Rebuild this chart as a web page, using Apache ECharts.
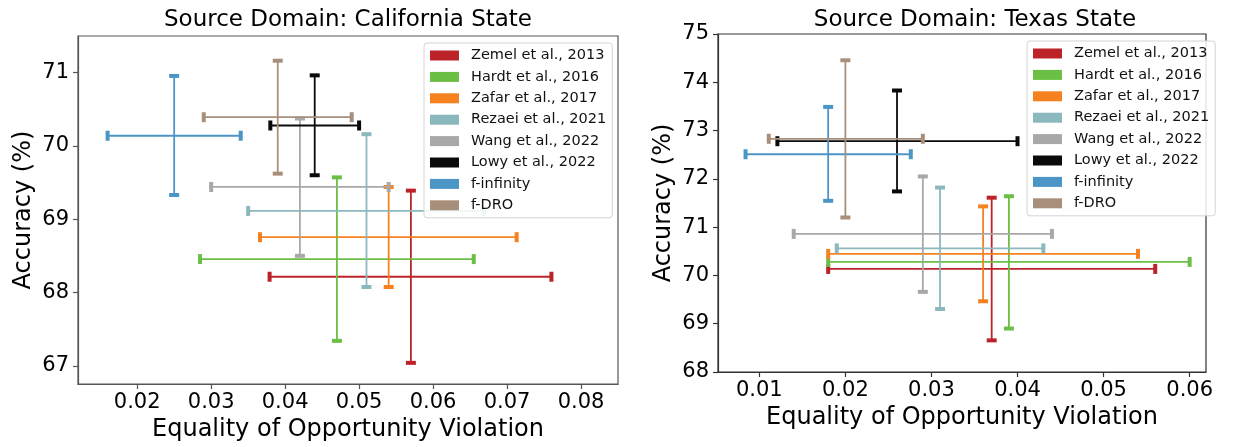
<!DOCTYPE html>
<html>
<head>
<meta charset="utf-8">
<script src="https://cdn.jsdelivr.net/npm/echarts@6/dist/echarts.min.js"></script>
<style>
html,body{margin:0;padding:0;background:#fff;}
#chart{width:1256px;height:447px;}
</style>
</head>
<body>
<div id="chart"></div>
<script>
// ---- data ----
const methods = ['Zemel et al., 2013','Hardt et al., 2016','Zafar et al., 2017','Rezaei et al., 2021','Wang et al., 2022','Lowy et al., 2022','f-infinity','f-DRO'];
const colors = ['#bb2329','#6cbf45','#f5821f','#8bb8bd','#a8a8a8','#0a0a0a','#4b96c6','#a88f7b'];

// Source Domain: California State
const caX   = [0.057, 0.047, 0.054, 0.051, 0.042, 0.044, 0.025, 0.039];
const caY   = [68.215, 68.456, 68.755, 69.113, 69.44, 70.279, 70.139, 70.392];
const caXLo = [0.0379, 0.0285, 0.0366, 0.035, 0.030, 0.038, 0.016, 0.029];
const caXHi = [0.076, 0.0655, 0.0713, 0.0669, 0.054, 0.050, 0.034, 0.049];
const caYLo = [67.04, 67.34, 68.075, 68.075, 68.50, 69.60, 69.33, 69.622];
const caYHi = [69.39, 69.571, 69.44, 70.16, 70.374, 70.963, 70.955, 71.163];

// Source Domain: Texas State
const txX   = [0.037, 0.039, 0.036, 0.031, 0.029, 0.026, 0.018, 0.020];
const txY   = [70.135, 70.28, 70.446, 70.56, 70.86, 72.78, 72.51, 72.83];
const txXLo = [0.018, 0.018, 0.018, 0.019, 0.014, 0.0121, 0.0084, 0.0111];
const txXHi = [0.056, 0.060, 0.054, 0.043, 0.044, 0.040, 0.0276, 0.029];
const txYLo = [68.655, 68.90, 69.465, 69.305, 69.66, 71.74, 71.545, 71.20];
const txYHi = [71.61, 71.64, 71.43, 71.82, 72.05, 73.83, 73.49, 74.456];

const caXTicks = [0.02, 0.03, 0.04, 0.05, 0.06, 0.07, 0.08];
const caYTicks = [67, 68, 69, 70, 71];
const txXTicks = [0.01, 0.02, 0.03, 0.04, 0.05, 0.06];
const txYTicks = [68, 69, 70, 71, 72, 73, 74, 75];

const titles = ['Source Domain: California State', 'Source Domain: Texas State'];
const xName = 'Equality of Opportunity Violation';
const yName = 'Accuracy (%)';

// ---- chart ----
const FONT = 'DejaVu Sans';
const chart = echarts.init(document.getElementById('chart'));

function renderErr(params, api) {
  const x = api.value(0), y = api.value(1);
  const pL = api.coord([api.value(2), y]);
  const pR = api.coord([api.value(3), y]);
  const pB = api.coord([x, api.value(4)]);
  const pT = api.coord([x, api.value(5)]);
  const color = api.visual('color');
  const lw = 1.8, capL = 10, capT = 4;
  const line = (a, b) => ({type: 'line', shape: {x1: a[0], y1: a[1], x2: b[0], y2: b[1]}, style: {stroke: color, lineWidth: lw}});
  const rect = (cx, cy, w, h) => ({type: 'rect', shape: {x: cx - w / 2, y: cy - h / 2, width: w, height: h}, style: {fill: color}});
  return {
    type: 'group',
    children: [
      line(pL, pR),
      line(pB, pT),
      rect(pL[0], pL[1], capT, capL),
      rect(pR[0], pR[1], capT, capL),
      rect(pB[0], pB[1], capL, capT),
      rect(pT[0], pT[1], capL, capT)
    ]
  };
}

function buildSeries(idx, X, Y, XLo, XHi, YLo, YHi) {
  return methods.map((m, i) => ({
    type: 'custom',
    name: m,
    xAxisIndex: idx,
    yAxisIndex: idx,
    itemStyle: {color: colors[i]},
    encode: {x: [0, 2, 3], y: [1, 4, 5]},
    renderItem: renderErr,
    clip: false,
    z: 2,
    data: [[X[i], Y[i], XLo[i], XHi[i], YLo[i], YHi[i]]]
  }));
}

const axisCommon = (lineColor) => ({
  axisLine: {show: true, onZero: false, lineStyle: {color: lineColor, width: 1.2}},
  splitLine: {show: false},
  nameLocation: 'middle',
  nameTextStyle: {fontFamily: FONT, fontSize: 24, color: '#000'}
});

function xAxis(idx, min, max, ticks, color) {
  return Object.assign(axisCommon(color), {
    type: 'value', gridIndex: idx, min: min, max: max, name: xName, nameGap: 31,
    axisTick: {show: true, length: 5, lineStyle: {color: color, width: 1.2}, customValues: ticks},
    axisLabel: {customValues: ticks, margin: 8, fontFamily: FONT, fontSize: 21, color: '#000', formatter: v => v.toFixed(2)}
  });
}
function yAxis(idx, min, max, ticks, color) {
  return Object.assign(axisCommon(color), {
    type: 'value', gridIndex: idx, min: min, max: max, name: yName, nameGap: 42,
    axisTick: {show: true, length: 5, lineStyle: {color: color, width: 1.2}, customValues: ticks},
    axisLabel: {customValues: ticks, margin: 9, fontFamily: FONT, fontSize: 21, color: '#000', formatter: v => String(Math.round(v))}
  });
}

function legend(left, top) {
  return {
    data: methods,
    orient: 'vertical',
    left: left, top: top,
    z: 10,
    icon: 'rect',
    itemWidth: 29, itemHeight: 10,
    itemGap: 6.4,
    padding: [5, 6, 5, 6],
    backgroundColor: 'rgba(255,255,255,0.85)',
    borderColor: '#d4d4d4', borderWidth: 1, borderRadius: 3,
    textStyle: {fontFamily: FONT, fontSize: 14.5, color: '#111', padding: [0, 0, 0, 7]},
    selectedMode: false
  };
}

const option = {
  animation: false,
  backgroundColor: '#fff',
  grid: [
    {left: 78, top: 36, width: 540, height: 350, show: true, borderColor: '#555', borderWidth: 1.2, backgroundColor: 'transparent'},
    {left: 718, top: 34, width: 488, height: 338, show: true, borderColor: '#333', borderWidth: 1.2, backgroundColor: 'transparent'}
  ],
  xAxis: [
    xAxis(0, 0.012, 0.085, caXTicks, '#555'),
    xAxis(1, 0.0052, 0.0619, txXTicks, '#333')
  ],
  yAxis: [
    yAxis(0, 66.75, 71.5, caYTicks, '#555'),
    yAxis(1, 68, 75, txYTicks, '#333')
  ],
  legend: [legend(424, 43), legend(1027, 41)],
  graphic: [
    {type: 'text', x: 348, y: 20, style: {text: titles[0], fontFamily: FONT, fontSize: 23, fill: '#000', textAlign: 'center', textVerticalAlign: 'middle'}},
    {type: 'text', x: 975, y: 20, style: {text: titles[1], fontFamily: FONT, fontSize: 23, fill: '#000', textAlign: 'center', textVerticalAlign: 'middle'}}
  ],
  series: [].concat(
    buildSeries(0, caX, caY, caXLo, caXHi, caYLo, caYHi),
    buildSeries(1, txX, txY, txXLo, txXHi, txYLo, txYHi)
  )
};
chart.setOption(option);
</script>
</body>
</html>
